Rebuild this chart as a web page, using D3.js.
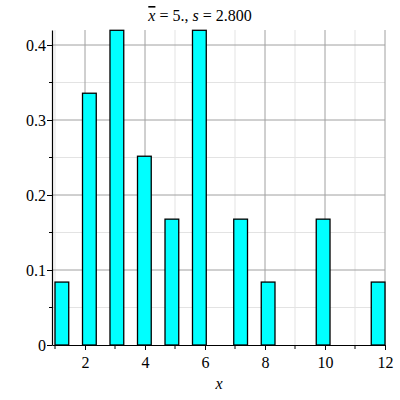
<!DOCTYPE html>
<html>
<head>
<meta charset="utf-8">
<script src="https://cdn.jsdelivr.net/npm/d3@7"></script>
<style>
  body { margin: 0; background: #fff; }
</style>
</head>
<body>
<svg id="chart"></svg>
<script>
// histogram bins (x range) and density heights
const binLo = [1.0, 1.917, 2.833, 3.75, 4.667, 5.583, 6.958, 7.875, 9.708, 11.542];
const binHi = [1.458, 2.375, 3.292, 4.208, 5.125, 6.042, 7.417, 8.333, 10.167, 12.0];
const heights = [0.0839, 0.3357, 0.4196, 0.2517, 0.1678, 0.4196, 0.1678, 0.0839, 0.1678, 0.0839];

const xTicks = [2, 4, 6, 8, 10, 12];
const xMinor = [1, 3, 5, 7, 9, 11];
const yTicks = [0, 0.1, 0.2, 0.3, 0.4];
const yMinor = [0.05, 0.15, 0.25, 0.35];

const serif = "'Liberation Serif', 'DejaVu Serif', serif";
const width = 400, height = 400;
const svg = d3.select("#chart").attr("width", width).attr("height", height);

const x = d3.scaleLinear().domain([0.9, 12]).range([52, 385]);
const y = d3.scaleLinear().domain([0, 0.42]).range([345, 30]);

// grid
svg.append("g").selectAll("line")
  .data(xMinor)
  .enter().append("line")
  .attr("x1", d => x(d)).attr("x2", d => x(d))
  .attr("y1", y(0)).attr("y2", y(0.42))
  .attr("stroke", "#e3e3e3");
svg.append("g").selectAll("line")
  .data(yMinor)
  .enter().append("line")
  .attr("x1", x(0.9)).attr("x2", x(12))
  .attr("y1", d => y(d)).attr("y2", d => y(d))
  .attr("stroke", "#e3e3e3");
svg.append("g").selectAll("line")
  .data(xTicks)
  .enter().append("line")
  .attr("x1", d => x(d)).attr("x2", d => x(d))
  .attr("y1", y(0)).attr("y2", y(0.42))
  .attr("stroke", "#a0a0a0");
svg.append("g").selectAll("line")
  .data(yTicks.slice(1))
  .enter().append("line")
  .attr("x1", x(0.9)).attr("x2", x(12))
  .attr("y1", d => y(d)).attr("y2", d => y(d))
  .attr("stroke", "#a0a0a0");

// bars
svg.append("g").selectAll("rect")
  .data(heights)
  .enter().append("rect")
  .attr("x", (d, i) => x(binLo[i]))
  .attr("width", (d, i) => x(binHi[i]) - x(binLo[i]))
  .attr("y", d => y(d))
  .attr("height", d => y(0) - y(d))
  .attr("fill", "#00ffff")
  .attr("stroke", "black")
  .attr("stroke-width", 1.3);

// axes
const xAxis = svg.append("g")
  .attr("transform", "translate(0," + y(0) + ")")
  .call(d3.axisBottom(x).tickValues(xTicks).tickSize(5).tickSizeOuter(0).tickFormat(d3.format("d")));
xAxis.append("g").selectAll("line")
  .data(xMinor)
  .enter().append("line")
  .attr("x1", d => x(d)).attr("x2", d => x(d))
  .attr("y1", 0).attr("y2", 4)
  .attr("stroke", "black");

const yAxis = svg.append("g")
  .attr("transform", "translate(" + x(0.9) + ",0)")
  .call(d3.axisLeft(y).tickValues(yTicks).tickSize(5).tickSizeOuter(0)
    .tickFormat(d => d === 0 ? "0" : d3.format(".1f")(d)));
yAxis.append("g").selectAll("line")
  .data(yMinor)
  .enter().append("line")
  .attr("x1", -3).attr("x2", 0)
  .attr("y1", d => y(d)).attr("y2", d => y(d))
  .attr("stroke", "black");

svg.selectAll(".domain").attr("stroke", "black").attr("stroke-width", 1.2);
svg.selectAll(".tick line").attr("stroke", "black");
xAxis.attr("font-family", serif).attr("font-size", 16);
yAxis.attr("font-family", serif).attr("font-size", 16);
svg.selectAll(".tick text").attr("fill", "black");
xAxis.selectAll(".tick text").attr("dy", "0.95em");
yAxis.selectAll(".tick text").attr("x", -6);

// x label
svg.append("text")
  .attr("x", 219).attr("y", 389)
  .attr("text-anchor", "middle")
  .attr("font-family", serif)
  .attr("font-size", 16)
  .attr("font-style", "italic")
  .text("x");

// title
const title = svg.append("text")
  .attr("x", 200).attr("y", 21)
  .attr("text-anchor", "middle")
  .attr("font-family", serif)
  .attr("font-size", 16);
title.append("tspan").attr("font-style", "italic").attr("text-decoration", "overline").text("x");
title.append("tspan").text(" = 5.,  ");
title.append("tspan").attr("font-style", "italic").text("s");
title.append("tspan").text(" = 2.800");
</script>
</body>
</html>
